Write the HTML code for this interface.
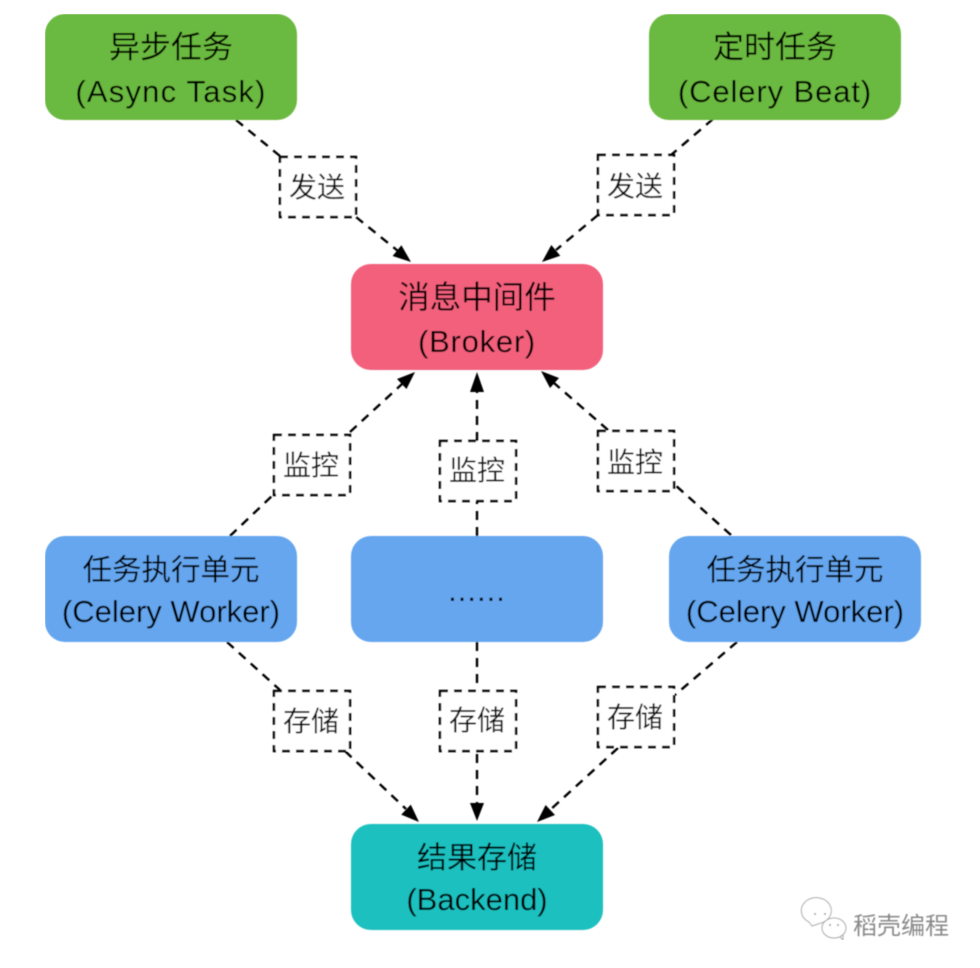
<!DOCTYPE html>
<html>
<head>
<meta charset="utf-8">
<style>
html,body{margin:0;padding:0;background:#fff}
svg{display:block}
text{font-family:"Liberation Sans","Noto Sans CJK SC",sans-serif;fill:#000;text-anchor:middle}
.t{font-size:31px}
.l{font-size:28px;fill:#111}
.e{stroke:#000;stroke-width:2.4;stroke-dasharray:9 7;fill:none}
.b{stroke:#000;stroke-width:2.4;stroke-dasharray:8 6;fill:#fff}
.a{fill:#000}
</style>
</head>
<body>
<svg width="980" height="968" viewBox="0 0 980 968" xmlns="http://www.w3.org/2000/svg">
<defs><filter id="s" x="0" y="0" width="100%" height="100%"><feGaussianBlur stdDeviation="0.45"/></filter></defs>
<rect width="980" height="968" fill="#fff"/>
<g filter="url(#s)">
<!-- connectors -->
<path class="e" d="M236 120L280 156"/>
<path class="e" d="M356 217L398 251"/>
<polygon class="a" points="411,262 401.4,245.2 392.6,256"/>
<path class="e" d="M713 119L671 155"/>
<path class="e" d="M598 215L556 250"/>
<polygon class="a" points="542,262 560.3,255.8 551.3,245"/>
<path class="e" d="M230 536L273 495"/>
<path class="e" d="M350 432L402 384"/>
<polygon class="a" points="415,372 406.5,389 397,379"/>
<path class="e" d="M477 536L477 501"/>
<path class="e" d="M477 441L477 388"/>
<polygon class="a" points="477,372 484,392 470,392"/>
<path class="e" d="M731 535L674 484"/>
<path class="e" d="M608 430L554 383"/>
<polygon class="a" points="541,371 550,388 559,378"/>
<path class="e" d="M227 642L280 690"/>
<path class="e" d="M345 751L406 809"/>
<polygon class="a" points="419,822 410.8,804.6 401.2,814.6"/>
<path class="e" d="M477 642L477 690"/>
<path class="e" d="M477 754L477 805"/>
<polygon class="a" points="477,821 470,803 484,803"/>
<path class="e" d="M737 642L675 695"/>
<path class="e" d="M618 748L550 810"/>
<polygon class="a" points="537,822 555,815 545.6,805"/>
<!-- nodes -->
<rect x="45" y="14" width="252" height="106" rx="20" fill="#6bb93f"/>
<rect x="649" y="14" width="252" height="106" rx="20" fill="#6bb93f"/>
<rect x="351" y="264" width="252" height="106" rx="20" fill="#f2617b"/>
<rect x="45" y="536" width="252" height="106" rx="20" fill="#65a6ee"/>
<rect x="351" y="536" width="252" height="106" rx="20" fill="#65a6ee"/>
<rect x="669" y="536" width="252" height="106" rx="20" fill="#65a6ee"/>
<rect x="351" y="824" width="252" height="106" rx="20" fill="#1ec0bf"/>
<text class="t" x="171" y="58">异步任务</text>
<text class="t" x="171" y="102" letter-spacing="1.2">(Async Task)</text>
<text class="t" x="775" y="58">定时任务</text>
<text class="t" x="775" y="102" letter-spacing="0.9">(Celery Beat)</text>
<text class="t" x="477" y="308" style="font-size:31.5px">消息中间件</text>
<text class="t" x="477" y="352" letter-spacing="0.75">(Broker)</text>
<text class="t" x="171" y="580" style="font-size:29.5px">任务执行单元</text>
<text class="t" x="171" y="622">(Celery Worker)</text>
<text class="t" x="477" y="601" letter-spacing="1">......</text>
<text class="t" x="795" y="580" style="font-size:29.5px">任务执行单元</text>
<text class="t" x="795" y="622">(Celery Worker)</text>
<text class="t" x="477" y="868" style="font-size:30px">结果存储</text>
<text class="t" x="477" y="910">(Backend)</text>
<!-- edge labels -->
<rect class="b" x="280" y="157" width="76" height="60"/>
<text class="l" x="317" y="197">发送</text>
<rect class="b" x="598" y="155" width="76" height="60"/>
<text class="l" x="635" y="196">发送</text>
<rect class="b" x="274" y="435" width="76" height="60"/>
<text class="l" x="311" y="475">监控</text>
<rect class="b" x="440" y="441" width="76" height="60"/>
<text class="l" x="477" y="480">监控</text>
<rect class="b" x="598" y="431" width="76" height="60"/>
<text class="l" x="635" y="472">监控</text>
<rect class="b" x="274" y="691" width="76" height="60"/>
<text class="l" x="311" y="731">存储</text>
<rect class="b" x="440" y="691" width="76" height="60"/>
<text class="l" x="477" y="730">存储</text>
<rect class="b" x="598" y="687" width="76" height="60"/>
<text class="l" x="635" y="727">存储</text>
<!-- watermark -->
<g fill="#fff" stroke="#aaa" stroke-width="1">
<path d="M812 926l-3-4a15 13 0 1 1 12 1z"/>
<ellipse cx="834" cy="928" rx="12" ry="10"/>
<path d="M840 937l3 3 0-5z"/>
</g>
<g fill="#999"><circle cx="815" cy="914" r="1"/><circle cx="825" cy="914" r="1"/><circle cx="830" cy="925" r="1"/><circle cx="838" cy="925" r="1"/></g>
<text x="901" y="934" style="font-size:24px;fill:#8a8a8a">稻壳编程</text>
</g>
</svg>
</body>
</html>
